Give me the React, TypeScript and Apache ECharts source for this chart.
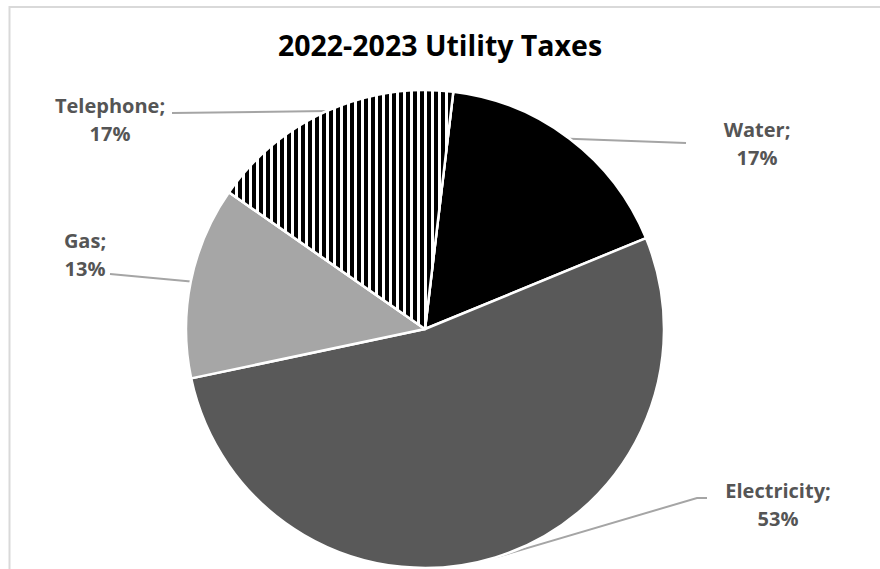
import React, { useEffect, useRef } from 'react';
import * as echarts from 'echarts';

const TITLE = '2022-2023 Utility Taxes';
const categories = ['Water', 'Electricity', 'Gas', 'Telephone'];
const values = [16.9, 52.9, 13.0, 17.2];
const sliceColors = ['#000000', '#595959', '#a6a6a6', '#ffffff'];

// label layout (centres of the two-line labels and leader-line ends)
const labelCenters: number[][] = [[757, 143], [778, 504], [85, 254], [110, 119]];
const lineEnds: number[][][] = [
  [[686, 143], [686, 143]],
  [[697, 498], [707, 498]],
  [[110, 274], [110, 274]],
  [[172, 113], [172, 113]],
];

export default function App() {
  const ref = useRef<HTMLDivElement>(null);
  useEffect(() => {
    if (!ref.current) return;
    const chart = echarts.init(ref.current, null, { renderer: 'svg' });
    const font = "'Open Sans', 'DejaVu Sans', sans-serif";
    chart.setOption({
      animation: false,
      backgroundColor: '#ffffff',
      title: {
        text: TITLE,
        left: 'center',
        top: 22,
        textStyle: { fontFamily: font, fontWeight: 'bold', fontSize: 28.5, color: '#000000', lineHeight: 36 },
      },
      graphic: [
        {
          type: 'polyline',
          shape: { points: [[9.5, 569], [9.5, 7], [880, 7]] },
          style: { stroke: '#d9d9d9', lineWidth: 2, fill: 'none' },
          silent: true,
        },
      ],
      series: [
        {
          type: 'pie',
          center: [425, 329],
          radius: 239,
          startAngle: 83.2,
          clockwise: true,
          silent: true,
          emphasis: { disabled: true },
          itemStyle: { borderColor: '#ffffff', borderWidth: 2.5 },
          label: {
            show: true,
            position: 'outside',
            fontFamily: font,
            fontWeight: 'bold',
            fontSize: 20,
            lineHeight: 28,
            color: '#555555',
            align: 'center',
            formatter: (p: any) => `${p.name};\n${Math.round(p.percent)}%`,
          },
          labelLine: { show: true, lineStyle: { color: '#a5a5a5', width: 2 } },
          labelLayout: (params: any) => {
            const i = params.dataIndex;
            const start = params.labelLinePoints ? params.labelLinePoints[0] : lineEnds[i][0];
            return {
              x: labelCenters[i][0],
              y: labelCenters[i][1],
              align: 'center',
              verticalAlign: 'middle',
              labelLinePoints: [start, lineEnds[i][0], lineEnds[i][1]],
            };
          },
          data: categories.map((name, i) => ({
            name,
            value: values[i],
            itemStyle:
              i === 3
                ? {
                    color: sliceColors[i],
                    decal: {
                      symbol: 'rect',
                      symbolSize: 1,
                      color: '#000000',
                      backgroundColor: '#ffffff',
                      dashArrayX: [4, 3],
                      dashArrayY: [7, 0],
                      rotation: 0,
                    },
                  }
                : { color: sliceColors[i] },
          })),
        },
      ],
    });
    return () => chart.dispose();
  }, []);
  return (
    <div
      ref={ref}
      style={{ position: 'fixed', left: 0, top: 0, width: 880, height: 569 }}
    />
  );
}
